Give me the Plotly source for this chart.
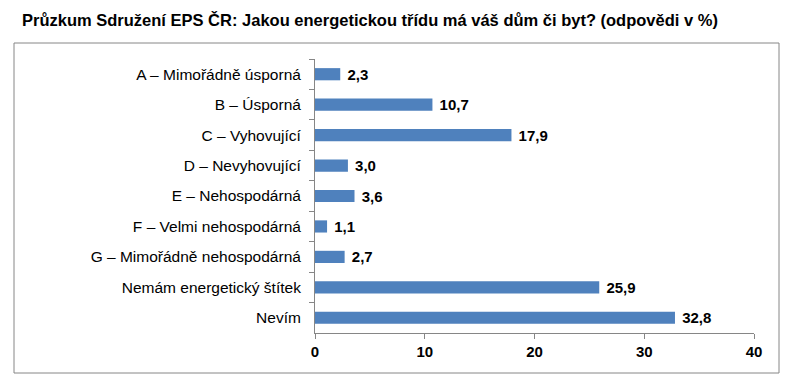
import plotly.graph_objects as go

categories = ["A – Mimořádně úsporná", "B – Úsporná", "C – Vyhovující", "D – Nevyhovující",
              "E – Nehospodárná", "F – Velmi nehospodárná", "G – Mimořádně nehospodárná",
              "Nemám energetický štítek", "Nevím"]
values = [2.3, 10.7, 17.9, 3.0, 3.6, 1.1, 2.7, 25.9, 32.8]
x_ticks = [0, 10, 20, 30, 40]
title = "Průzkum Sdružení EPS ČR: Jakou energetickou třídu má váš dům či byt? (odpovědi v %)"

labels = [" " + f"{v:.1f}".replace(".", ",") for v in values]

fig = go.Figure(go.Bar(
    x=values, y=categories, orientation="h",
    marker=dict(color="#4F81BD", line=dict(width=0)),
    text=labels, textposition="outside", cliponaxis=False, constraintext="none",
    textfont=dict(family="Liberation Sans", size=15, color="black", weight="bold"),
))

# page body has an 8px margin, so shift everything by -8
OFF = 8
W, H = 794 - OFF, 389 - OFF
L, R, T, B = 315 - OFF, 754 - OFF, 59 - OFF, 333 - OFF
fig.update_layout(
    width=W, height=H,
    margin=dict(l=L, r=W - R, t=T, b=H - B, autoexpand=False),
    paper_bgcolor="white", plot_bgcolor="white",
    bargap=0.6, showlegend=False,
    title=dict(text=title, x=(22 - OFF) / W, xanchor="left", y=1 - (20 - OFF) / H, yanchor="middle",
               font=dict(family="Liberation Sans", size=16.5, color="black", weight="bold")),
    xaxis=dict(range=[0, 40], tickvals=x_ticks, showgrid=False, zeroline=False,
               showline=True, linecolor="#868686", linewidth=1, automargin=False,
               ticks="outside", ticklen=5, tickcolor="#868686",
               tickfont=dict(family="Liberation Sans", size=15, color="black", weight="bold")),
    yaxis=dict(autorange="reversed", showgrid=False, zeroline=False, automargin=False,
               showline=True, linecolor="#868686", linewidth=1,
               ticks="outside", ticklen=5, tickcolor="#868686", tickson="boundaries",
               ticklabelstandoff=10,
               tickfont=dict(family="Liberation Sans", size=15.5, color="black")),
)

pw, ph = R - L, B - T
fig.add_shape(type="rect", xref="paper", yref="paper",
              x0=(14 - OFF - L) / pw, x1=(779 - OFF - L) / pw,
              y0=(B - (373 - OFF)) / ph, y1=(B - (43 - OFF)) / ph,
              line=dict(color="#868686", width=1), fillcolor="rgba(0,0,0,0)", layer="below")

fig.write_html("out.html")
